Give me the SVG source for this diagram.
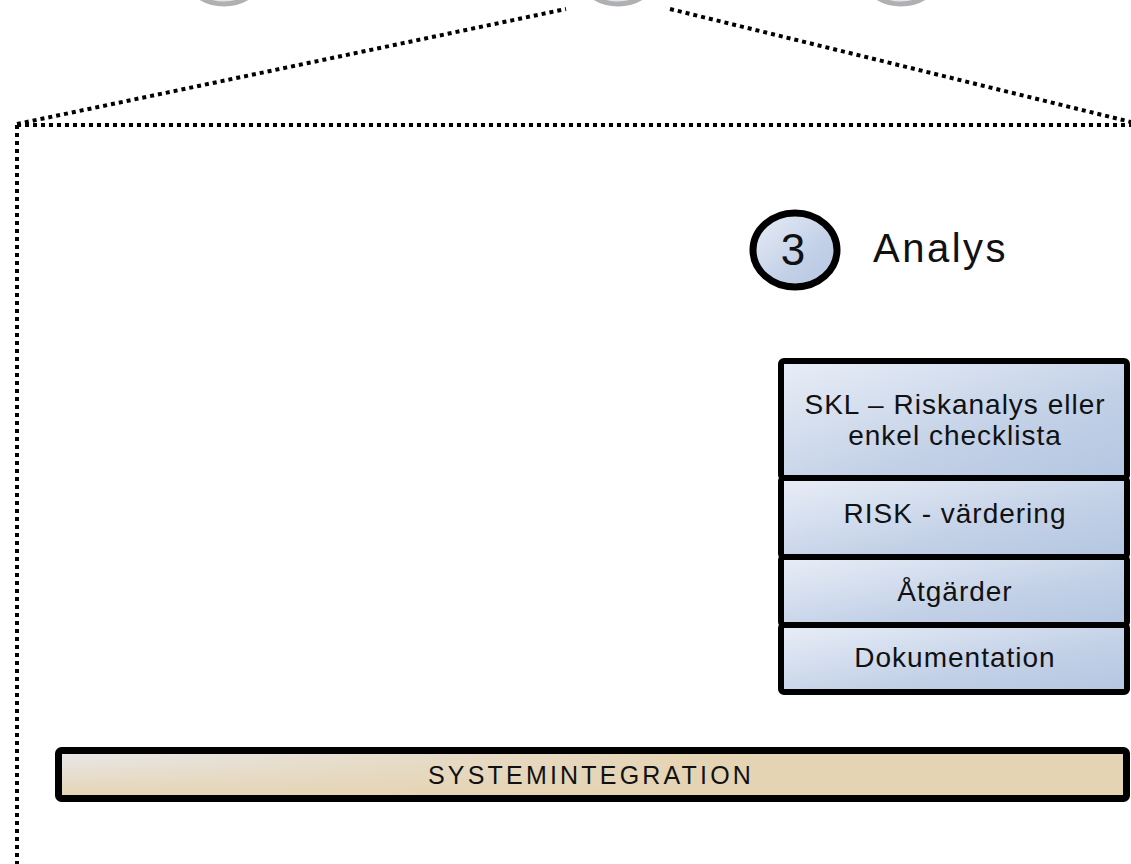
<svg xmlns="http://www.w3.org/2000/svg" width="1131" height="864" viewBox="0 0 1131 864">
<defs>
<style>
.dot{fill:none;stroke:#000;stroke-width:4;stroke-dasharray:4 4}
.box{stroke:#000;stroke-width:6;fill:url(#blue)}
.lbl{font-family:"Liberation Sans",Arial,sans-serif;font-size:28px;letter-spacing:1px;fill:#111;text-anchor:middle}
.top{fill:url(#blueL);stroke:#b0b0b0;stroke-width:5}
</style>
<linearGradient id="blue" x1="0" y1="0" x2="1" y2="1">
<stop offset="0" stop-color="#e9eef7"/>
<stop offset="0.6" stop-color="#c3d1e7"/>
<stop offset="1" stop-color="#b4c6e1"/>
</linearGradient>
<linearGradient id="blueL" x1="0" y1="0" x2="1" y2="1">
<stop offset="0" stop-color="#eef2f8"/>
<stop offset="1" stop-color="#d6e0ee"/>
</linearGradient>
<linearGradient id="tanV" x1="0" y1="0" x2="0" y2="1">
<stop offset="0" stop-color="#e8e8ec"/>
<stop offset="1" stop-color="#e6d4b2"/>
</linearGradient>
<linearGradient id="tanH" x1="0" y1="0" x2="1" y2="0">
<stop offset="0" stop-color="#e5d4b3" stop-opacity="0"/>
<stop offset="0.6" stop-color="#e5d4b3" stop-opacity="1"/>
<stop offset="1" stop-color="#e5d4b3" stop-opacity="1"/>
</linearGradient>
</defs>
<rect width="1131" height="864" fill="#fff"/>
<g id="top-circles">
<ellipse class="top" cx="224" cy="-34" rx="42" ry="38"/>
<ellipse class="top" cx="618" cy="-34" rx="42" ry="38"/>
<ellipse class="top" cx="901" cy="-34" rx="42" ry="38"/>
</g>
<g id="connectors">
<line class="dot" x1="17" y1="124" x2="566" y2="9"/>
<line class="dot" x1="670" y1="9" x2="1131" y2="122"/>
<line class="dot" x1="17" y1="125" x2="1131" y2="125"/>
<line class="dot" x1="17" y1="125" x2="17" y2="864"/>
</g>
<g id="step3">
<ellipse cx="795" cy="250" rx="42" ry="37" fill="url(#blue)" stroke="#000" stroke-width="7"/>
<text x="793" y="265" font-family="Liberation Sans,Arial,sans-serif" font-size="44" text-anchor="middle" fill="#111">3</text>
<text x="873" y="262" font-family="Liberation Sans,Arial,sans-serif" font-size="40" letter-spacing="2.5" fill="#111">Analys</text>
</g>
<g id="box1">
<rect class="box" x="781" y="361" width="346" height="117" rx="3"/>
<text class="lbl" x="955" y="414">SKL – Riskanalys eller</text>
<text class="lbl" x="955" y="445">enkel checklista</text>
</g>
<g id="box2">
<rect class="box" x="781" y="478" width="346" height="79" rx="3"/>
<text class="lbl" x="955" y="523">RISK - värdering</text>
</g>
<g id="box3">
<rect class="box" x="781" y="557" width="346" height="68" rx="3"/>
<text class="lbl" x="955" y="601">Åtgärder</text>
</g>
<g id="box4">
<rect class="box" x="781" y="625" width="346" height="67" rx="3"/>
<text class="lbl" x="955" y="667">Dokumentation</text>
</g>
<g id="systemintegration">
<rect x="58.5" y="750.5" width="1068" height="48" rx="3" fill="url(#tanV)"/>
<rect x="58.5" y="750.5" width="1068" height="48" rx="3" fill="url(#tanH)"/>
<rect x="58.5" y="750.5" width="1068" height="48" rx="3" fill="none" stroke="#000" stroke-width="7"/>
<text class="lbl" x="591" y="784" style="font-size:25px;letter-spacing:3.2px">SYSTEMINTEGRATION</text>
</g>
</svg>
